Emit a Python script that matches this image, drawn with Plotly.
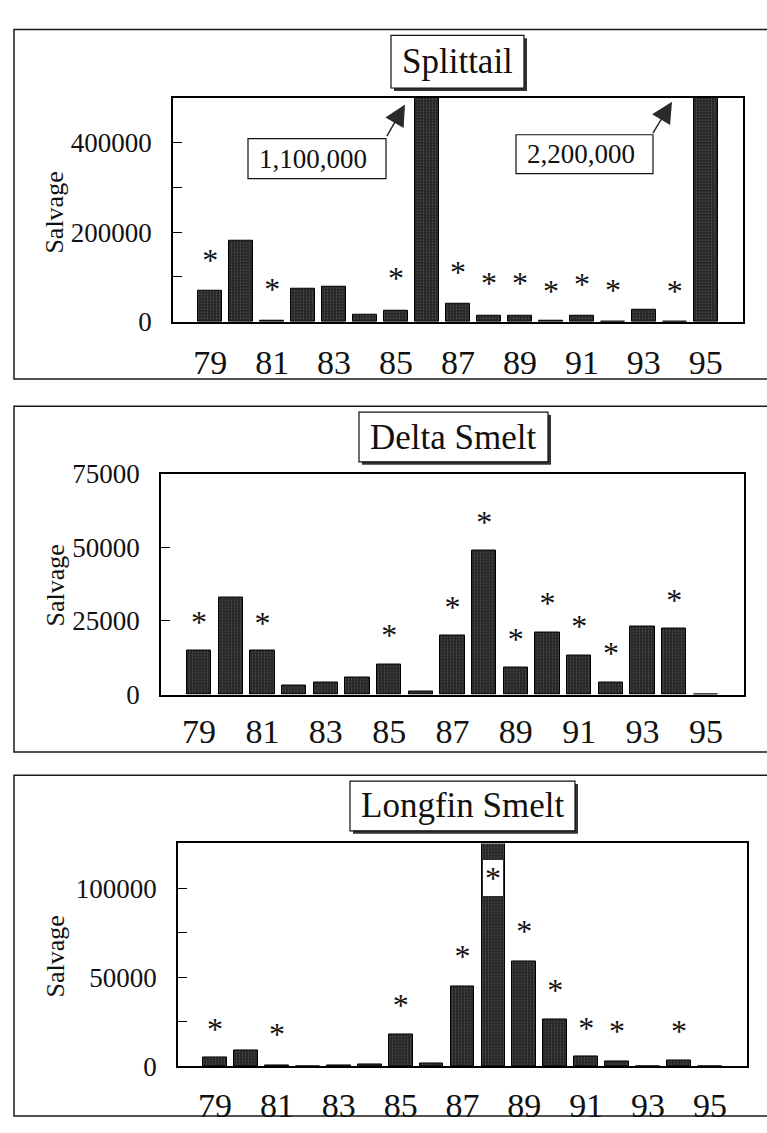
import plotly.graph_objects as go

# ---------------- data ----------------
YEARS = [79, 80, 81, 82, 83, 84, 85, 86, 87, 88, 89, 90, 91, 92, 93, 94, 95]
TICK_YEARS = [79, 81, 83, 85, 87, 89, 91, 93, 95]
TICK_LABELS = ["79", "81", "83", "85", "87", "89", "91", "93", "95"]

SPLITTAIL = [68000, 180000, 1000, 74000, 78000, 15000, 24000, 1100000, 40000,
             14000, 14000, 2000, 14000, 500, 26000, 500, 2200000]
SPLIT_STAR_YEARS = [79, 81, 85, 87, 88, 89, 90, 91, 92, 94]
SPLIT_STAR_Y = [130000, 67000, 91000, 105000, 79000, 79000, 62000, 77000, 65000, 62000]

DELTA = [15000, 33000, 15000, 3200, 4000, 5800, 10200, 900, 20000, 49000,
         9100, 21100, 13100, 4200, 23000, 22300, 0]
DELTA_STAR_YEARS = [79, 81, 85, 87, 88, 89, 90, 91, 92, 94]
DELTA_STAR_Y = [23500, 23300, 19200, 28600, 57600, 17900, 29900, 22100, 13200, 31100]

LONGFIN = [4900, 9000, 800, 200, 300, 1000, 18000, 1700, 45000, 150000,
           58700, 26100, 5300, 2900, 0, 3400, 0]
LONG_STAR_YEARS = [79, 81, 85, 87, 89, 90, 91, 92, 94]
LONG_STAR_Y = [19500, 16200, 33000, 60200, 74500, 41000, 19800, 18200, 18300]
LONG_BOXED_YEAR = 88
LONG_BOXED_Y = 107000

TITLES = ["Splittail", "Delta Smelt", "Longfin Smelt"]
Y_TITLE = "Salvage"
OFFSCALE_LABELS = ["1,100,000", "2,200,000"]

# ---------------- layout helpers ----------------
W, H = 767, 1133
FONT = "Liberation Serif"
INK = "#111111"


def px(x):
    return x / W


def py(y):
    return 1 - y / H


fig = go.Figure()

panels = [
    dict(vals=SPLITTAIL, sx=SPLIT_STAR_YEARS, sy=SPLIT_STAR_Y,
         xd=(173, 743), yd=(85, 315), yr=[0, 500000], dtick=200000, minor=100000,
         xstand=10, title_box=(391, 21, 524, 75), frame=(14, 15, 374), ylab=203),
    dict(vals=DELTA, sx=DELTA_STAR_YEARS, sy=DELTA_STAR_Y,
         xd=(161, 744), yd=(471, 698), yr=[0, 75000], dtick=25000, minor=None,
         xstand=6, title_box=(359, 408, 548, 459), frame=(14, 402, 757), ylab=586),
    dict(vals=LONGFIN, sx=LONG_STAR_YEARS, sy=LONG_STAR_Y,
         xd=(178, 747), yd=(851, 1080), yr=[0, 125000], dtick=50000, minor=25000,
         xstand=8, title_box=(350, 787, 575, 838), frame=(14, 781, 1131), ylab=967),
]

shapes = []
annotations = []

for i, p in enumerate(panels):
    n = "" if i == 0 else str(i + 1)
    xa, ya = "x" + n, "y" + n

    fig.add_trace(go.Bar(
        x=YEARS, y=p["vals"], xaxis=xa, yaxis=ya, width=0.77,
        marker=dict(color="#2c2c2c", line=dict(color="#000000", width=1),
                    pattern=dict(shape=".", fgcolor="#8c8c8c", bgcolor="#282828",
                                 size=3, solidity=0.14)),
        showlegend=False, hoverinfo="x+y"))

    fig.add_trace(go.Scatter(
        x=p["sx"], y=p["sy"], xaxis=xa, yaxis=ya, mode="text",
        text=["*"] * len(p["sx"]), textposition="middle center",
        textfont=dict(family=FONT, size=32, color=INK),
        cliponaxis=False, showlegend=False, hoverinfo="skip"))

    x0, x1 = p["xd"]
    y0, y1 = p["yd"]
    xaxis = dict(domain=[px(x0), px(x1)], range=[77.8, 96.2], anchor=ya,
                 tickmode="array", tickvals=TICK_YEARS, ticktext=TICK_LABELS,
                 ticks="", showline=True, mirror=True, linecolor="#000000",
                 linewidth=1.5, showgrid=False, zeroline=False,
                 ticklabelstandoff=p["xstand"],
                 tickfont=dict(family=FONT, size=34, color=INK))
    yaxis = dict(domain=[py(y1), py(y0)], range=p["yr"], anchor=xa,
                 dtick=p["dtick"], tick0=0, tickformat="d",
                 ticks="inside", ticklen=9, tickwidth=1.2, tickcolor="#000000",
                 showline=True, mirror=True, linecolor="#000000", linewidth=1.5,
                 showgrid=False, zeroline=False, ticklabelstandoff=14,
                 tickfont=dict(family=FONT, size=27, color=INK))
    if p["minor"]:
        yaxis["minor"] = dict(dtick=p["minor"], ticks="inside", ticklen=9,
                              tickwidth=1.2, tickcolor="#000000", showgrid=False)
    fig.update_layout(**{"xaxis" + n: xaxis, "yaxis" + n: yaxis})

    # panel frame
    fx0, fy0, fy1 = p["frame"]
    shapes.append(dict(type="rect", xref="paper", yref="paper",
                       x0=px(fx0), x1=px(790), y0=py(fy1), y1=py(fy0),
                       line=dict(color="#1a1a1a", width=1.5), fillcolor="rgba(0,0,0,0)",
                       layer="below"))
    # title box with drop shadow
    bx0, by0, bx1, by1 = p["title_box"]
    shapes.append(dict(type="rect", xref="paper", yref="paper",
                       x0=px(bx0 + 3), x1=px(bx1 + 3), y0=py(by1 + 3), y1=py(by0 + 3),
                       line=dict(width=0), fillcolor="#333333", layer="above"))
    shapes.append(dict(type="rect", xref="paper", yref="paper",
                       x0=px(bx0), x1=px(bx1), y0=py(by1), y1=py(by0),
                       line=dict(color="#111111", width=1.2), fillcolor="#ffffff",
                       layer="above"))
    annotations.append(dict(xref="paper", yref="paper",
                            x=px((bx0 + bx1) / 2), y=py((by0 + by1) / 2),
                            text=TITLES[i], showarrow=False,
                            font=dict(family=FONT, size=35, color=INK),
                            xanchor="center", yanchor="middle"))
    # y-axis title
    annotations.append(dict(xref="paper", yref="paper", x=px(55), y=py(p["ylab"]),
                            text=Y_TITLE, textangle=-90, showarrow=False,
                            font=dict(family=FONT, size=26, color=INK),
                            xanchor="center", yanchor="middle"))

# off-scale value boxes and arrows (Splittail)
for label, box, head, tail in [
    (OFFSCALE_LABELS[0], (248, 127, 386, 168), (405, 92), (386, 125)),
    (OFFSCALE_LABELS[1], (516, 123, 653, 163), (672, 89), (652, 122)),
]:
    bx0, by0, bx1, by1 = box
    shapes.append(dict(type="rect", xref="paper", yref="paper",
                       x0=px(bx0), x1=px(bx1), y0=py(by1), y1=py(by0),
                       line=dict(color="#111111", width=1.2), fillcolor="#ffffff",
                       layer="above"))
    annotations.append(dict(xref="paper", yref="paper",
                            x=px((bx0 + bx1) / 2 - 4), y=py((by0 + by1) / 2),
                            text=label, showarrow=False,
                            font=dict(family=FONT, size=27, color=INK),
                            xanchor="center", yanchor="middle"))
    annotations.append(dict(xref="paper", yref="paper", x=px(head[0]), y=py(head[1]),
                            ax=tail[0] - head[0], ay=tail[1] - head[1],
                            text="", showarrow=True, arrowhead=2, arrowsize=2.8,
                            arrowwidth=1.5, arrowcolor="#2a2a2a", standoff=0))

# boxed asterisk inside the off-scale Longfin bar
annotations.append(dict(xref="x3", yref="y3", x=LONG_BOXED_YEAR, y=LONG_BOXED_Y,
                        text="*", showarrow=False, bgcolor="#ffffff",
                        bordercolor="#333333", borderwidth=1, width=18, height=34,
                        font=dict(family=FONT, size=32, color=INK), yshift=-2))

fig.update_layout(width=W, height=H, margin=dict(l=0, r=0, t=0, b=0),
                  paper_bgcolor="#ffffff", plot_bgcolor="#ffffff",
                  shapes=shapes, annotations=annotations, bargap=0,
                  font=dict(family=FONT, color=INK))

fig.write_html("out.html",
               config={"displayModeBar": False},
               post_script="document.body.style.margin='0';"
                           "document.body.style.overflow='hidden';")
